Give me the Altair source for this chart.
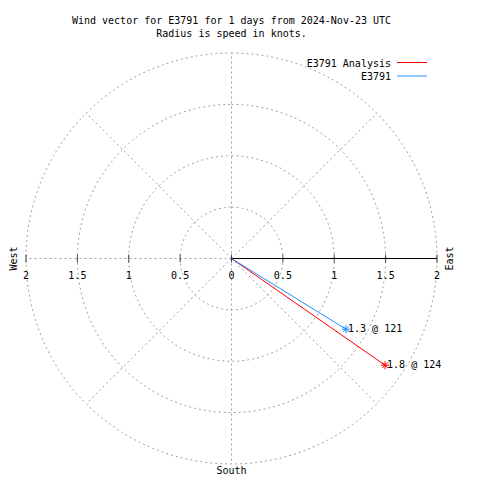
import altair as alt
import pandas as pd
import numpy as np

# ---- data ----
title_lines = ["Wind vector for E3791 for 1 days from 2024-Nov-23 UTC",
               "Radius is speed in knots."]
series = ["E3791 Analysis", "E3791"]
colors = ["#ff0000", "#1e90ff"]
speeds = [1.82, 1.31]          # knots
directions = [124.8, 121.7]    # degrees clockwise from north
point_labels = ["1.8 @ 124", "1.3 @ 121"]
rings = [0.5, 1.0, 1.5, 2.0]
spokes = [0, 45, 90, 135, 180, 225, 270, 315]
tick_vals = [-2, -1.5, -1, -0.5, 0, 0.5, 1, 1.5, 2]
tick_text = ["2", "1.5", "1", "0.5", "0", "0.5", "1", "1.5", "2"]
rmax = 2.0

FONT = "DejaVu Sans Mono"
GRID = "#a0a0a0"

# ---- tables built from the arrays ----
ring_rows = []
for r in rings:
    for k, a in enumerate(range(0, 361, 2)):
        t = np.deg2rad(a)
        ring_rows.append({"ring": r, "o": k, "x": r * np.sin(t), "y": r * np.cos(t)})
ring_df = pd.DataFrame(ring_rows)

spoke_rows = []
for a in spokes:
    t = np.deg2rad(a)
    spoke_rows.append({"spoke": a, "o": 0, "x": 0.0, "y": 0.0})
    spoke_rows.append({"spoke": a, "o": 1, "x": rmax * np.sin(t), "y": rmax * np.cos(t)})
spoke_df = pd.DataFrame(spoke_rows)

tick_df = pd.DataFrame({"x": tick_vals, "y": [0.0] * len(tick_vals), "label": tick_text})
axis_df = pd.DataFrame({"x": [0.0], "x2": [rmax], "y": [0.0]})

vec_rows = []
vec_end = []
for s, c, sp, d, lab in zip(series, colors, speeds, directions, point_labels):
    t = np.deg2rad(d)
    ex, ey = sp * np.sin(t), sp * np.cos(t)
    vec_rows.append({"series": s, "o": 0, "x": 0.0, "y": 0.0})
    vec_rows.append({"series": s, "o": 1, "x": ex, "y": ey})
    vec_end.append({"series": s, "x": ex, "y": ey, "label": lab})
vec_df = pd.DataFrame(vec_rows)
end_df = pd.DataFrame(vec_end)

W = H = 411
xs = alt.Scale(domain=[-rmax, rmax], nice=False, zero=False)
ys = alt.Scale(domain=[-rmax, rmax], nice=False, zero=False)
X = lambda f="x": alt.X(f"{f}:Q", scale=xs, axis=None)
Y = lambda f="y": alt.Y(f"{f}:Q", scale=ys, axis=None)
col_scale = alt.Scale(domain=series, range=colors)

rings_layer = alt.Chart(ring_df).mark_line(
    color=GRID, strokeWidth=1, strokeDash=[2, 3]
).encode(x=X(), y=Y(), detail="ring:N", order="o:Q")

spokes_layer = alt.Chart(spoke_df).mark_line(
    color=GRID, strokeWidth=1, strokeDash=[2, 3]
).encode(x=X(), y=Y(), detail="spoke:N", order="o:Q")

axis_layer = alt.Chart(axis_df).mark_rule(color="black", strokeWidth=1).encode(
    x=X(), x2="x2:Q", y=Y()
)

ticks_layer = alt.Chart(tick_df).mark_tick(
    orient="vertical", size=8, thickness=1, color="black"
).encode(x=X(), y=Y())

tick_labels = alt.Chart(tick_df).mark_text(
    font=FONT, fontSize=10, color="black", baseline="middle", align="center", dy=17
).encode(x=X(), y=Y(), text="label:N")

compass_df = pd.DataFrame({"x": [-rmax, rmax, 0.0], "y": [0.0, 0.0, -rmax],
                           "label": ["West", "East", "South"]})
west = alt.Chart(compass_df).transform_filter("datum.label == 'West'").mark_text(
    font=FONT, fontSize=10, color="black", angle=270, align="center", baseline="middle", dy=-12.5
).encode(x=X(), y=Y(), text="label:N")
east = alt.Chart(compass_df).transform_filter("datum.label == 'East'").mark_text(
    font=FONT, fontSize=10, color="black", angle=270, align="center", baseline="middle", dy=12.5
).encode(x=X(), y=Y(), text="label:N")
south = alt.Chart(compass_df).transform_filter("datum.label == 'South'").mark_text(
    font=FONT, fontSize=10, color="black", align="center", baseline="middle", dy=7
).encode(x=X(), y=Y(), text="label:N")

vec_layer = alt.Chart(vec_df).mark_line(strokeWidth=1).encode(
    x=X(), y=Y(), order="o:Q",
    color=alt.Color("series:N", scale=col_scale, legend=None),
)

STAR = "M-1,0L1,0M0,-1L0,1M-0.7,-0.7L0.7,0.7M-0.7,0.7L0.7,-0.7"
star_layer = alt.Chart(end_df).mark_point(
    shape=STAR, size=64, filled=False, strokeWidth=1, opacity=1
).encode(x=X(), y=Y(), color=alt.Color("series:N", scale=col_scale, legend=None))

end_labels = alt.Chart(end_df).mark_text(
    font=FONT, fontSize=10, color="black", align="left", baseline="middle", dx=2
).encode(x=X(), y=Y(), text="label:N")

legend_layers = []
for i, (s, c) in enumerate(zip(series, colors)):
    one = pd.DataFrame({"series": [s]})
    legend_layers.append(
        alt.Chart(one).mark_text(font=FONT, fontSize=10, color="black",
                                 align="right", baseline="middle").encode(
            x=alt.value(365), y=alt.value(10.5 + 13 * i), text="series:N")
    )
    legend_layers.append(
        alt.Chart(one).mark_rule(color=c, strokeWidth=1).encode(
            x=alt.value(371), x2=alt.value(401), y=alt.value(9.5 + 13.5 * i))
    )

chart = alt.layer(
    rings_layer, spokes_layer, axis_layer, ticks_layer, tick_labels,
    west, east, south, vec_layer, star_layer, end_labels, *legend_layers
).properties(
    width=W, height=H,
    background="white",
    title=alt.TitleParams(text=title_lines, font=FONT, fontSize=10, fontWeight="normal",
                          color="black", anchor="middle", offset=12, lineHeight=13),
    autosize=alt.AutoSizeParams(type="none"),
    padding={"left": 18, "top": 45, "right": 25, "bottom": 13},
).configure_view(strokeWidth=0, stroke=None)

chart.save("out.html", embed_options={"renderer": "svg", "actions": False})
